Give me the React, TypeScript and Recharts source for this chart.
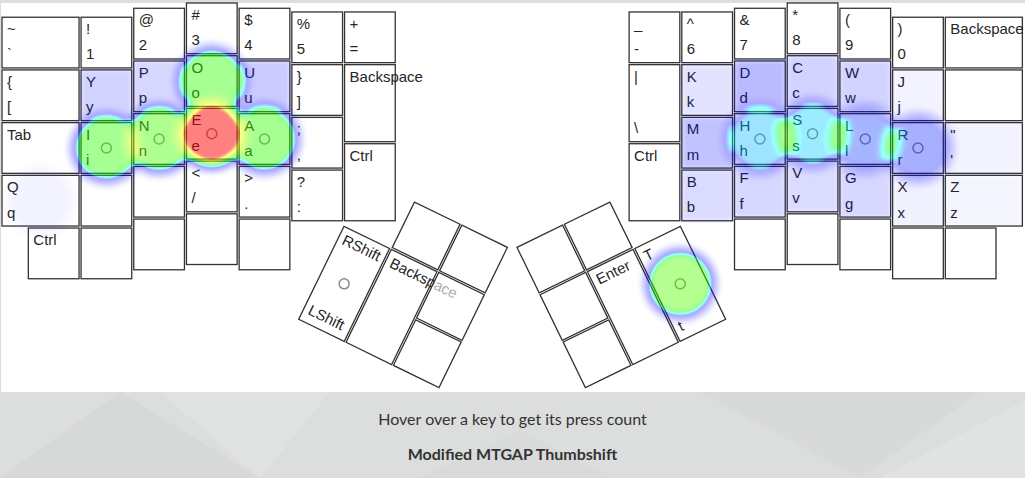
import React from 'react';
import { ScatterChart, Scatter, XAxis, YAxis } from 'recharts';

// ---------- chart frame ----------
const CHART_W = 1025;
const CHART_H = 392;
const X_DOMAIN: [number, number] = [-0.019, 19.431];
const Y_DOMAIN: [number, number] = [-0.038, 7.4];
const PX_PER_UNIT = CHART_W / (X_DOMAIN[1] - X_DOMAIN[0]);

// ---------- layout data (key units) ----------
const LEFT_COL_X = [0, 1.5, 2.5, 3.5, 4.5, 5.5, 6.5];
const LEFT_STAGGER = [0.27, 0.27, 0.1, 0, 0.1, 0.17, 0.17];
const RIGHT_START = 11.9;
const RIGHT_COL_X = [0, 1, 2, 3, 4, 5, 6];
const RIGHT_STAGGER = [0.17, 0.17, 0.1, 0, 0.1, 0.27, 0.27];

// [column, row, width, height, upper label, lower label, x shift]
type KeyDef = [number, number, number, number, string, string, number?];

const LEFT_KEYS: KeyDef[] = [
  [0, 0, 1.5, 1, '~', '`'], [0, 1, 1.5, 1, '{', '['], [0, 2, 1.5, 1, 'Tab', ''], [0, 3, 1.5, 1, 'Q', 'q'], [0, 4, 1, 1, 'Ctrl', '', 0.5],
  [1, 0, 1, 1, '!', '1'], [1, 1, 1, 1, 'Y', 'y'], [1, 2, 1, 1, 'I', 'i'], [1, 3, 1, 1, '', ''], [1, 4, 1, 1, '', ''],
  [2, 0, 1, 1, '@', '2'], [2, 1, 1, 1, 'P', 'p'], [2, 2, 1, 1, 'N', 'n'], [2, 3, 1, 1, '', ''], [2, 4, 1, 1, '', ''],
  [3, 0, 1, 1, '#', '3'], [3, 1, 1, 1, 'O', 'o'], [3, 2, 1, 1, 'E', 'e'], [3, 3, 1, 1, '<', '/'], [3, 4, 1, 1, '', ''],
  [4, 0, 1, 1, '$', '4'], [4, 1, 1, 1, 'U', 'u'], [4, 2, 1, 1, 'A', 'a'], [4, 3, 1, 1, '>', '.'], [4, 4, 1, 1, '', ''],
  [5, 0, 1, 1, '%', '5'], [5, 1, 1, 1, '}', ']'], [5, 2, 1, 1, ';', ','], [5, 3, 1, 1, '?', ':'],
  [6, 0, 1, 1, '+', '='], [6, 1, 1, 1.5, 'Backspace', ''], [6, 2.5, 1, 1.5, 'Ctrl', ''],
];

const RIGHT_KEYS: KeyDef[] = [
  [0, 0, 1, 1, '_', '-'], [0, 1, 1, 1.5, '|', '\\'], [0, 2.5, 1, 1.5, 'Ctrl', ''],
  [1, 0, 1, 1, '^', '6'], [1, 1, 1, 1, 'K', 'k'], [1, 2, 1, 1, 'M', 'm'], [1, 3, 1, 1, 'B', 'b'],
  [2, 0, 1, 1, '&', '7'], [2, 1, 1, 1, 'D', 'd'], [2, 2, 1, 1, 'H', 'h'], [2, 3, 1, 1, 'F', 'f'], [2, 4, 1, 1, '', ''],
  [3, 0, 1, 1, '*', '8'], [3, 1, 1, 1, 'C', 'c'], [3, 2, 1, 1, 'S', 's'], [3, 3, 1, 1, 'V', 'v'], [3, 4, 1, 1, '', ''],
  [4, 0, 1, 1, '(', '9'], [4, 1, 1, 1, 'W', 'w'], [4, 2, 1, 1, 'L', 'l'], [4, 3, 1, 1, 'G', 'g'], [4, 4, 1, 1, '', ''],
  [5, 0, 1, 1, ')', '0'], [5, 1, 1, 1, 'J', 'j'], [5, 2, 1, 1, 'R', 'r'], [5, 3, 1, 1, 'X', 'x'], [5, 4, 1, 1, '', ''],
  [6, 0, 1.5, 1, 'Backspace', ''], [6, 1, 1.5, 1, '', ''], [6, 2, 1.5, 1, '"', "'"], [6, 3, 1.5, 1, 'Z', 'z'], [6, 4, 1, 1, '', ''],
];

// thumb clusters: [local x, local y, width, height, upper, lower]
const THUMB_ANGLE = 26;
const LEFT_THUMB_PIVOT: [number, number] = [6.5, 4.23];
const RIGHT_THUMB_PIVOT: [number, number] = [12.9, 4.23];
const LEFT_THUMB_KEYS: KeyDef[] = [
  [0, 0, 1, 2, 'RShift', 'LShift'], [1, 0, 1, 2, 'Backspace', ''], [2, 0, 1, 1, '', ''], [2, 1, 1, 1, '', ''],
  [1, -1, 1, 1, '', ''], [2, -1, 1, 1, '', ''],
];
const RIGHT_THUMB_KEYS: KeyDef[] = [
  [0, 0, 1, 2, 'T', 't'], [1, 0, 1, 2, 'Enter', ''], [2, 0, 1, 1, '', ''], [2, 1, 1, 1, '', ''],
  [1, -1, 1, 1, '', ''], [2, -1, 1, 1, '', ''],
];

// ---------- heat data ----------
const BLOB_KEYS = ['E', 'O', 'N', 'I', 'A', 'T', 'H', 'S', 'L', 'R', 'Q'];
const BLOB_VALUES = [1.0, 0.7, 0.73, 0.7, 0.71, 0.75, 0.52, 0.53, 0.42, 0.46, 0.06];
const TINT_KEYS = ['Y', 'P', 'U', 'K', 'D', 'C', 'W', 'J', 'M', 'B', 'F', 'V', 'G', 'X', 'Z', '"', 'L'];
const TINT_VALUES = [0.22, 0.2, 0.26, 0.14, 0.34, 0.22, 0.22, 0.06, 0.3, 0.18, 0.2, 0.18, 0.2, 0.07, 0.05, 0.06, 0.08];
const HOME_MARKERS = ['I', 'N', 'E', 'A', 'H', 'S', 'L', 'R', 'RShift', 'T'];

// ---------- style constants ----------
const BLOB_RADIUS = 0.79;
const FONT = '"Liberation Sans", Arial, Helvetica, sans-serif';

type Key = { x: number; y: number; w: number; h: number; angle: number; upper: string; lower: string };

const buildMain = (defs: KeyDef[], colX: number[], stagger: number[], start: number): Key[] =>
  defs.map(([c, r, w, h, upper, lower, shift]) => ({
    x: start + colX[c] + (shift || 0) + w / 2,
    y: stagger[c] + r + h / 2,
    w, h, angle: 0, upper, lower,
  }));

const buildThumb = (defs: KeyDef[], pivot: [number, number], angle: number, mirror: boolean): Key[] =>
  defs.map(([lx, ly, w, h, upper, lower]) => {
    const a = (angle * Math.PI) / 180;
    const vx = (mirror ? -1 : 1) * (lx + w / 2);
    const vy = ly + h / 2;
    return {
      x: pivot[0] + vx * Math.cos(a) - vy * Math.sin(a),
      y: pivot[1] + vx * Math.sin(a) + vy * Math.cos(a),
      w, h, angle, upper, lower,
    };
  });

const KEYS: Key[] = [
  ...buildMain(LEFT_KEYS, LEFT_COL_X, LEFT_STAGGER, 0),
  ...buildMain(RIGHT_KEYS, RIGHT_COL_X, RIGHT_STAGGER, RIGHT_START),
  ...buildThumb(LEFT_THUMB_KEYS, LEFT_THUMB_PIVOT, THUMB_ANGLE, false),
  ...buildThumb(RIGHT_THUMB_KEYS, RIGHT_THUMB_PIVOT, -THUMB_ANGLE, true),
];

const findKey = (label: string) => KEYS.find((k) => k.upper === label) as Key;

const MARKER_DATA = HOME_MARKERS.map((l) => {
  const k = findKey(l);
  return { x: k.x, y: k.y };
});

const HEAT_DATA = [
  ...TINT_KEYS.map((l, i) => {
    const k = findKey(l);
    return { x: k.x, y: k.y, w: k.w, h: k.h, kind: 'tint', v: TINT_VALUES[i] };
  }),
  ...BLOB_KEYS.map((l, i) => {
    const k = findKey(l);
    return { x: k.x, y: k.y, w: k.w, h: k.h, kind: 'blob', v: BLOB_VALUES[i] };
  }),
];

// ---------- shapes ----------
const KeyShape = (props: any) => {
  const { cx, cy, payload } = props;
  const w = payload.w * PX_PER_UNIT;
  const h = payload.h * PX_PER_UNIT;
  const left = cx - w / 2;
  const top = cy - h / 2;
  return (
    <g transform={payload.angle ? `rotate(${payload.angle} ${cx} ${cy})` : undefined}>
      <rect x={left + 1} y={top + 1} width={w - 2} height={h - 2} fill="#fff" fillOpacity={0.62} stroke="#333" strokeWidth={1.3} />
      {payload.upper ? (
        <text x={left + 6} y={top + 18} fontFamily={FONT} fontSize={15} fill="#262626">
          {payload.upper}
        </text>
      ) : null}
      {payload.lower ? (
        <text x={left + 6} y={top + h - 9.5} fontFamily={FONT} fontSize={15} fill="#262626">
          {payload.lower}
        </text>
      ) : null}
    </g>
  );
};

const MarkerShape = (props: any) => {
  const { cx, cy } = props;
  return <circle cx={cx} cy={cy} r={5} fill="none" stroke="#8a8a8a" strokeWidth={1.5} />;
};

const HeatShape = (props: any) => {
  const { cx, cy, payload } = props;
  if (payload.kind === 'blob') {
    return <circle cx={cx} cy={cy} r={BLOB_RADIUS * PX_PER_UNIT} fill="url(#heatBlob)" fillOpacity={payload.v} />;
  }
  const w = payload.w * PX_PER_UNIT;
  const h = payload.h * PX_PER_UNIT;
  return <rect x={cx - w / 2 + 1} y={cy - h / 2 + 1} width={w - 2} height={h - 2} fill="#000" fillOpacity={payload.v} />;
};

// palette: blue (<=0.45) -> cyan (0.55) -> green (0.65) -> yellow (0.95) -> red (1)
const TABLE_R = '0 0 0 0 0 0 0 0 0 0 0 0 0 0 0.167 0.333 0.5 0.667 0.833 1 1';
const TABLE_G = '0 0 0 0 0 0 0 0 0 0 0.5 1 1 1 1 1 1 1 1 1 0';
const TABLE_B = '1 1 1 1 1 1 1 1 1 1 1 1 0.5 0 0 0 0 0 0 0 0';
const TABLE_A = '0 0.04 0.08 0.12 0.16 0.2 0.24 0.28 0.31 0.34 0.37 0.4 0.41 0.42 0.43 0.44 0.45 0.46 0.47 0.48 0.5';

const FOOTER_SHAPES = [
  { points: '0,478 120,392 260,478', fill: '#d7d8d8' },
  { points: '160,392 330,392 260,478', fill: '#e0e1e1' },
  { points: '700,392 860,478 980,392', fill: '#d8d9d9' },
  { points: '880,478 1025,400 1025,478', fill: '#e1e2e2' },
  { points: '420,478 520,430 610,478', fill: '#d9dada' },
];

export default function App() {
  return (
    <div style={{ position: 'absolute', left: 0, top: 0, width: 1025, height: 478, background: '#dcdddd', overflow: 'hidden' }}>
      <style>{'.heat-layer{filter:url(#heatColor);}'}</style>
      <svg width={1025} height={478} style={{ position: 'absolute', left: 0, top: 0 }}>
        <defs>
          <radialGradient id="heatBlob">
            <stop offset="0" stopColor="#000" stopOpacity={1} />
            <stop offset="0.64" stopColor="#000" stopOpacity={1} />
            <stop offset="0.8" stopColor="#000" stopOpacity={0.5} />
            <stop offset="1" stopColor="#000" stopOpacity={0} />
          </radialGradient>
          <filter id="heatColor" filterUnits="userSpaceOnUse" x={0} y={0} width={CHART_W} height={CHART_H} colorInterpolationFilters="sRGB">
            <feGaussianBlur stdDeviation={2} />
            <feColorMatrix type="matrix" values="0 0 0 1 0  0 0 0 1 0  0 0 0 1 0  0 0 0 1 0" />
            <feComponentTransfer>
              <feFuncR type="table" tableValues={TABLE_R} />
              <feFuncG type="table" tableValues={TABLE_G} />
              <feFuncB type="table" tableValues={TABLE_B} />
              <feFuncA type="table" tableValues={TABLE_A} />
            </feComponentTransfer>
          </filter>
        </defs>
        {FOOTER_SHAPES.map((s, i) => (
          <polygon key={i} points={s.points} fill={s.fill} />
        ))}
        <rect x={1} y={3} width={1024} height={389} fill="#fff" />
      </svg>
      <div style={{ position: 'absolute', left: 0, top: 0 }}>
        <ScatterChart width={CHART_W} height={CHART_H} margin={{ top: 0, right: 0, bottom: 0, left: 0 }}>
          <XAxis type="number" dataKey="x" domain={X_DOMAIN} allowDataOverflow hide />
          <YAxis type="number" dataKey="y" domain={Y_DOMAIN} allowDataOverflow reversed hide />
          <Scatter data={KEYS} shape={KeyShape} isAnimationActive={false} />
          <Scatter data={MARKER_DATA} shape={MarkerShape} isAnimationActive={false} />
          <Scatter className="heat-layer" data={HEAT_DATA} shape={HeatShape} isAnimationActive={false} />
        </ScatterChart>
      </div>
      <div style={{ position: 'absolute', left: 0, top: 392, width: 1025, textAlign: 'center', fontFamily: 'Lato, sans-serif', color: '#333' }}>
        <div style={{ position: 'absolute', left: 0, width: 1025, top: 17, fontSize: 16, lineHeight: '20px' }}>Hover over a key to get its press count</div>
        <div style={{ position: 'absolute', left: 0, width: 1025, top: 52, fontSize: 16, lineHeight: '20px', fontWeight: 700 }}>Modified MTGAP Thumbshift</div>
      </div>
    </div>
  );
}
